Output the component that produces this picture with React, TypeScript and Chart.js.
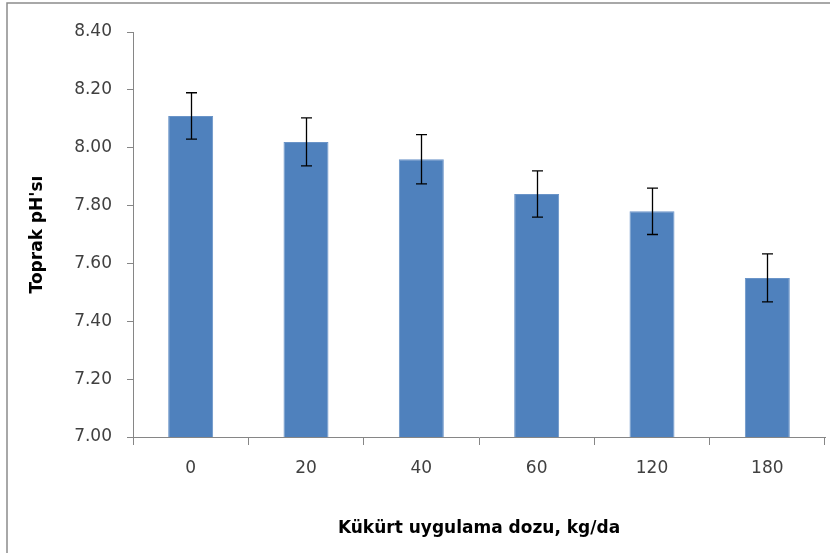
import React, { useEffect, useRef } from "react";
import { Chart, registerables } from "chart.js";

Chart.register(...registerables);

const categories = ["0", "20", "40", "60", "120", "180"];
const phValues = [8.11, 8.02, 7.96, 7.84, 7.78, 7.55];
const phErrors = [0.08, 0.083, 0.085, 0.08, 0.08, 0.083];
const yMin = 7.0;
const yMax = 8.4;
const yStep = 0.2;
const xTitle = "Kükürt uygulama dozu, kg/da";
const yTitle = "Toprak pH'sı";

const axisGray = "#868686";

const errorBarPlugin = {
  id: "errorBars",
  afterDatasetsDraw(chart: any) {
    const { ctx } = chart;
    const meta = chart.getDatasetMeta(0);
    const yScale = chart.scales.y;
    ctx.save();
    ctx.strokeStyle = "#000000";
    ctx.lineWidth = 1.3;
    meta.data.forEach((bar: any, i: number) => {
      const v = phValues[i];
      const e = phErrors[i];
      const x = Math.round(bar.x) + 0.5;
      const yTop = yScale.getPixelForValue(v + e);
      const yBot = yScale.getPixelForValue(v - e);
      const cap = 5.5;
      ctx.beginPath();
      ctx.moveTo(x, yTop);
      ctx.lineTo(x, yBot);
      ctx.moveTo(x - cap, yTop);
      ctx.lineTo(x + cap, yTop);
      ctx.moveTo(x - cap, yBot);
      ctx.lineTo(x + cap, yBot);
      ctx.stroke();
    });
    ctx.restore();
  },
};

const framePlugin = {
  id: "frame",
  beforeDraw(chart: any) {
    const { ctx, width, height } = chart;
    ctx.save();
    ctx.fillStyle = "#ffffff";
    ctx.fillRect(0, 0, width, height);
    ctx.strokeStyle = "#8c8c8c";
    ctx.lineWidth = 1.5;
    ctx.beginPath();
    ctx.moveTo(7, height);
    ctx.lineTo(7, 3);
    ctx.lineTo(width, 3);
    ctx.stroke();
    ctx.restore();
  },
};

export default function App() {
  const canvasRef = useRef<HTMLCanvasElement | null>(null);

  useEffect(() => {
    if (!canvasRef.current) return;
    const chart = new Chart(canvasRef.current, {
      type: "bar",
      data: {
        labels: categories,
        datasets: [
          {
            data: phValues,
            backgroundColor: "#4F81BD",
            borderColor: "#6A94C8",
            borderWidth: 1,
            barPercentage: 0.39,
            categoryPercentage: 1,
          },
        ],
      },
      options: {
        responsive: false,
        animation: false,
        devicePixelRatio: 1,
        layout: { padding: { top: 32, right: 5, left: 0, bottom: 0 } },
        plugins: {
          legend: { display: false },
          tooltip: { enabled: false },
        },
        scales: {
          x: {
            grid: {
              display: true,
              offset: true,
              drawOnChartArea: false,
              drawTicks: true,
              tickLength: 8,
              color: axisGray,
            },
            border: { display: true, color: axisGray, width: 1 },
            ticks: {
              color: "#404040",
              padding: 13,
              font: { family: "DejaVu Sans", size: 17 },
            },
            title: {
              display: true,
              text: xTitle,
              color: "#000000",
              font: { family: "DejaVu Sans", size: 17, weight: "bold" },
              padding: { top: 0, bottom: 14 },
            },
            afterFit(scale: any) {
              scale.height = 116;
            },
          },
          y: {
            min: yMin,
            max: yMax,
            grid: {
              display: true,
              drawOnChartArea: false,
              drawTicks: true,
              tickLength: 6,
              color: axisGray,
            },
            border: { display: true, color: axisGray, width: 1 },
            ticks: {
              stepSize: yStep,
              color: "#404040",
              padding: 15,
              font: { family: "DejaVu Sans", size: 17 },
              callback: (v: any) => Number(v).toFixed(2),
            },
            title: {
              display: true,
              text: yTitle,
              color: "#000000",
              font: { family: "DejaVu Sans", size: 17, weight: "bold" },
              padding: { top: 27, bottom: 0 },
            },
            afterFit(scale: any) {
              scale.width = 133;
            },
          },
        },
      },
      plugins: [framePlugin, errorBarPlugin],
    });
    return () => chart.destroy();
  }, []);

  return (
    <div style={{ position: "fixed", left: 0, top: 0, width: 830, height: 553, background: "#fff" }}>
      <canvas ref={canvasRef} width={830} height={553} style={{ display: "block" }} />
    </div>
  );
}
